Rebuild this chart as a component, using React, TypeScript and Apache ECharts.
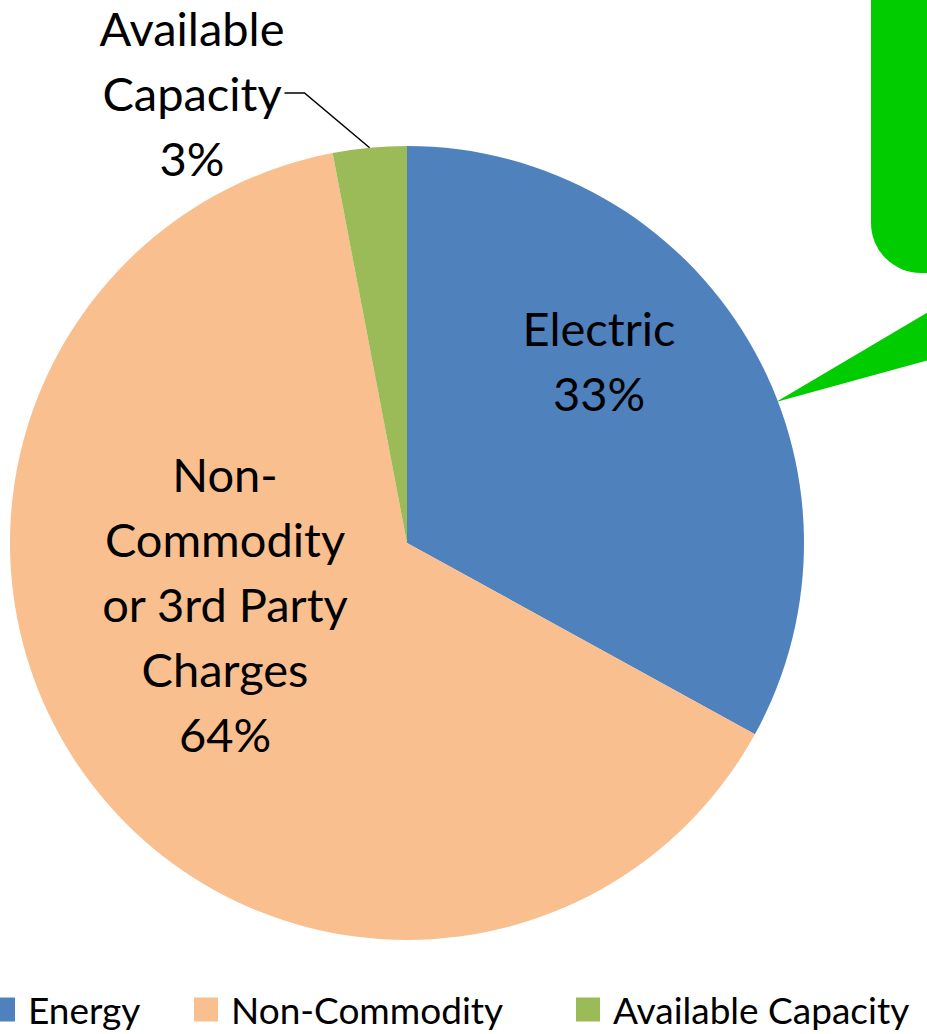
import React, { useEffect, useRef } from "react";
import * as echarts from "echarts";

const categories = ["Energy", "Non-Commodity", "Available Capacity"];
const labelNames = ["Electric", "Non-\nCommodity\nor 3rd Party\nCharges", "Available\nCapacity"];
const values = [33, 64, 3];
const colors = ["#4F81BD", "#F9BF8F", "#9BBB59"];

const FONT = "Lato";
const labelPos = [
  { x: 599, y: 360 },
  { x: 225, y: 604 },
  { x: 192, y: 93 },
];
const legendLeft = [-9, 194, 576];

export default function App() {
  const ref = useRef<HTMLDivElement>(null);
  useEffect(() => {
    document.body.style.margin = "0";
    const chart = echarts.init(ref.current!, null, { renderer: "svg" });
    const data = categories.map((c, i) => ({
      name: c,
      value: values[i],
      itemStyle: { color: colors[i] },
      label:
        i === 2
          ? { position: "outside" as const }
          : { position: "inside" as const },
      labelLine: { show: i === 2 },
    }));
    chart.setOption({
      animation: false,
      legend: categories.map((c, i) => ({
        data: [c],
        top: 991,
        left: legendLeft[i],
        itemWidth: 24,
        itemHeight: 24,
        icon: "rect",
        padding: 0,
        textStyle: {
          fontFamily: FONT,
          fontSize: 37,
          lineHeight: 30,
          color: "#000",
          padding: [0, 0, 0, 8],
        },
      })),
      graphic: [
        {
          type: "rect",
          shape: { x: 871, y: -80, width: 140, height: 353, r: 50 },
          style: { fill: "#00CC00" },
        },
        {
          type: "polygon",
          shape: { points: [[776, 402], [940, 305], [940, 357]] },
          style: { fill: "#00CC00" },
        },
      ],
      series: [
        {
          type: "pie",
          center: [407, 543],
          radius: 397,
          startAngle: 90,
          clockwise: true,
          data,
          label: {
            show: true,
            formatter: (p: any) => labelNames[p.dataIndex] + "\n" + Math.round(p.percent) + "%",
            fontFamily: FONT,
            fontSize: 47,
            lineHeight: 65,
            color: "#000",
            align: "center",
          },
          labelLine: {
            lineStyle: { color: "#000", width: 1.5 },
            length: 40,
            length2: 20,
          },
          labelLayout: (p: any) => ({
            x: labelPos[p.dataIndex].x,
            y: labelPos[p.dataIndex].y,
            align: "center",
            verticalAlign: "middle",
          }),
          emphasis: { disabled: true },
        },
      ],
    });
    return () => chart.dispose();
  }, []);
  return <div ref={ref} style={{ width: 927, height: 1034 }} />;
}
